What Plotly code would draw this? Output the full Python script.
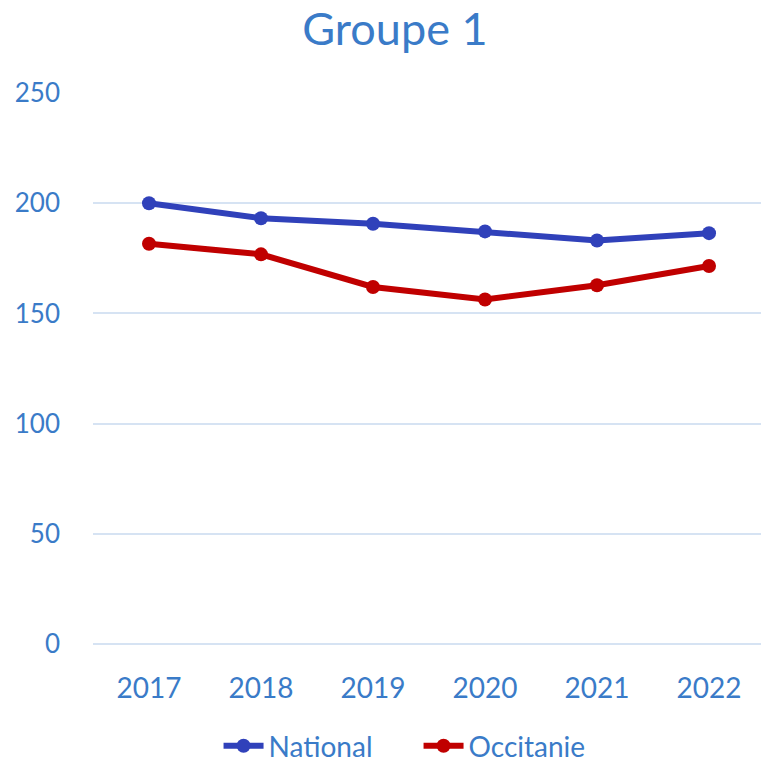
import plotly.graph_objects as go

# Yearly values for the two series
years = ["2017", "2018", "2019", "2020", "2021", "2022"]
national = [200, 193.2, 190.7, 187.2, 183.1, 186.4]
occitanie = [181.6, 176.8, 162.0, 156.3, 162.8, 171.5]
y_ticks = [0, 50, 100, 150, 200, 250]

TEXT_BLUE = "#3A7BC8"
GRID = "#D6E3F3"
FONT = "Lato"

fig = go.Figure()
fig.add_trace(go.Scatter(
    x=years, y=national, name="National", mode="lines+markers",
    line=dict(color="#3041BA", width=6),
    marker=dict(color="#3041BA", size=14),
))
fig.add_trace(go.Scatter(
    x=years, y=occitanie, name="Occitanie", mode="lines+markers",
    line=dict(color="#C00000", width=6),
    marker=dict(color="#C00000", size=14),
))

fig.update_layout(
    width=761, height=762,
    margin=dict(l=93, r=0, t=93, b=118, autoexpand=False),
    paper_bgcolor="white", plot_bgcolor="white",
    font=dict(family=FONT, color=TEXT_BLUE, size=26),
    title=dict(text="Groupe 1", x=0.519, xanchor="center", y=0.962, yanchor="middle",
               font=dict(family=FONT, size=45, color=TEXT_BLUE)),
    showlegend=True,
    legend=dict(orientation="h", xref="container", x=0.55, xanchor="center",
                yref="container", y=0.021, yanchor="middle",
                font=dict(family=FONT, size=28, color=TEXT_BLUE), itemwidth=40,
                entrywidth=145, entrywidthmode="pixels",
                traceorder="normal"),
    xaxis=dict(type="category", range=[-0.5, 5.464], showgrid=False, showline=False,
               zeroline=False, ticks="", ticklabelstandoff=25, automargin=False,
               tickfont=dict(family=FONT, size=28, color=TEXT_BLUE)),
    yaxis=dict(range=[0, 250], tickvals=y_ticks, showgrid=True, gridcolor=GRID,
               gridwidth=2, zeroline=True, zerolinecolor=GRID, zerolinewidth=2,
               showline=False, ticks="", ticklabelstandoff=32, automargin=False,
               tickfont=dict(family=FONT, size=26, color=TEXT_BLUE)),
)

fig.write_html("out.html")
